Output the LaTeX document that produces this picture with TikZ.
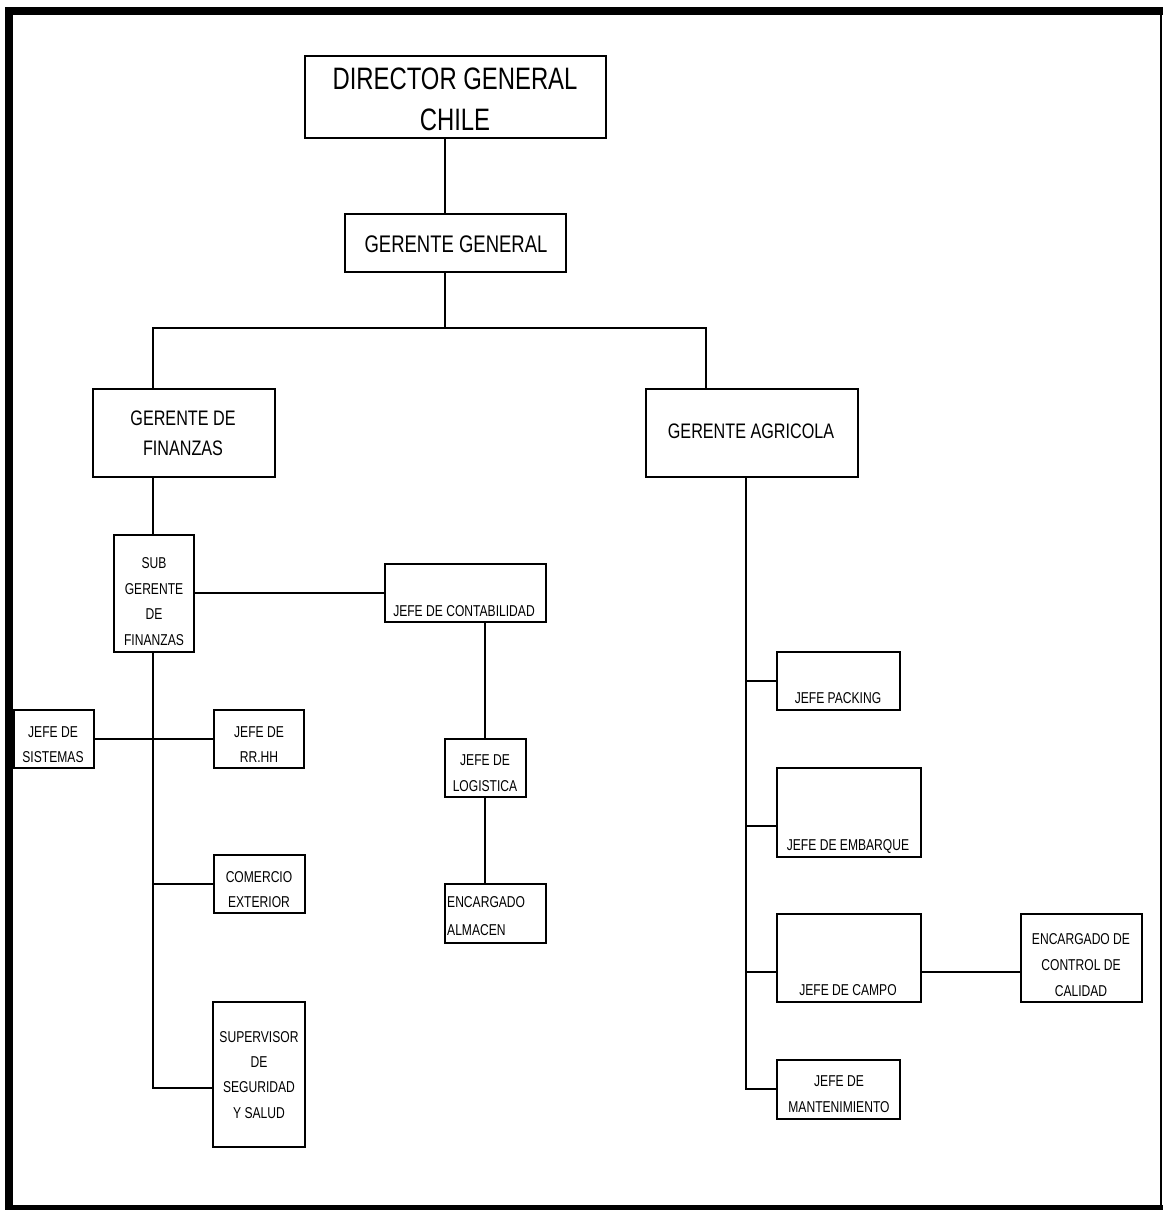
\documentclass[tikz,border=0pt]{standalone}
\usepackage{fontspec}
\setmainfont[FakeStretch=0.77]{Liberation Sans}
\begin{document}
\begin{tikzpicture}[x=1pt,y=-1pt,
  box/.style={draw, line width=1.5pt, rectangle, inner sep=0pt, outer sep=0pt, anchor=north west},
  link/.style={line width=1.5pt},
  big/.style={inner sep=0pt, align=center, font=\fontsize{31}{41}\selectfont},
  mid/.style={inner sep=0pt, align=center, font=\fontsize{21}{30}\selectfont},
  sm/.style={inner sep=0pt, align=center, font=\fontsize{15.7}{25.5}\selectfont}]
\useasboundingbox (0,0) rectangle (1163,1210);

% outer frame
\fill (5,7) rectangle (1163,15);
\fill (5,7) rectangle (13,1210);
\fill (5,1205) rectangle (1163,1210);
\draw[line width=1.5pt] (1161,15) -- (1161,1205);

% boxes
\node[box, minimum width=301pt, minimum height=82pt] (dir) at (305,56) {};
\node[box, minimum width=221pt, minimum height=58pt] (gg) at (345,214) {};
\node[box, minimum width=182pt, minimum height=88pt] (gf) at (93,389) {};
\node[box, minimum width=212pt, minimum height=88pt] (ga) at (646,389) {};
\node[box, minimum width=80pt, minimum height=117pt] (sub) at (114,535) {};
\node[box, minimum width=161pt, minimum height=58pt] (cont) at (385,564) {};
\node[box, minimum width=81pt, minimum height=58pt] (log) at (445,739) {};
\node[box, minimum width=101pt, minimum height=59pt] (alm) at (445,884) {};
\node[box, minimum width=80pt, minimum height=58pt] (sis) at (14,710) {};
\node[box, minimum width=90pt, minimum height=58pt] (rrhh) at (214,710) {};
\node[box, minimum width=91pt, minimum height=58pt] (com) at (214,855) {};
\node[box, minimum width=92pt, minimum height=145pt] (sup) at (213,1002) {};
\node[box, minimum width=123pt, minimum height=58pt] (pack) at (777,652) {};
\node[box, minimum width=144pt, minimum height=89pt] (emb) at (777,768) {};
\node[box, minimum width=144pt, minimum height=88pt] (campo) at (777,914) {};
\node[box, minimum width=121pt, minimum height=88pt] (cal) at (1021,914) {};
\node[box, minimum width=123pt, minimum height=59pt] (mant) at (777,1060) {};

% texts (anchored at the baseline of the last line)
\node[big, anchor=base] (dirT) at (455,130) {DIRECTOR GENERAL\\CHILE};
\node[inner sep=0pt, font=\fontsize{24}{30}\selectfont, anchor=base] (ggT) at (456,252) {GERENTE GENERAL};
\node[mid, anchor=base] (gfT) at (183,455) {GERENTE DE\\FINANZAS};
\node[mid, anchor=base] (gaT) at (751,438) {GERENTE AGRICOLA};
\node[sm, anchor=base] (subT) at (154,645) {SUB\\GERENTE\\DE\\FINANZAS};
\node[sm, anchor=base] (contT) at (464,616) {JEFE DE CONTABILIDAD};
\node[sm, anchor=base] (logT) at (485,791) {JEFE DE\\LOGISTICA};
\node[sm, align=left, anchor=base west, font=\fontsize{15.7}{28}\selectfont] (almT) at (447,935) {ENCARGADO\\ALMACEN};
\node[sm, anchor=base, font=\fontsize{15.7}{25}\selectfont] (sisT) at (53,762) {JEFE DE\\SISTEMAS};
\node[sm, anchor=base, font=\fontsize{15.7}{25}\selectfont] (rrhhT) at (259,762) {JEFE DE\\RR.HH};
\node[sm, anchor=base, font=\fontsize{15.7}{24.5}\selectfont] (comT) at (259,907) {COMERCIO\\EXTERIOR};
\node[sm, anchor=base, font=\fontsize{15.7}{25.3}\selectfont] (supT) at (259,1118) {SUPERVISOR\\DE\\SEGURIDAD\\Y SALUD};
\node[sm, anchor=base] (packT) at (838,703) {JEFE PACKING};
\node[sm, anchor=base] (embT) at (848,850) {JEFE DE EMBARQUE};
\node[sm, anchor=base] (campoT) at (848,995) {JEFE DE CAMPO};
\node[sm, anchor=base, font=\fontsize{15.7}{26}\selectfont] (calT) at (1081,996) {ENCARGADO DE\\CONTROL DE\\CALIDAD};
\node[sm, anchor=base] (mantT) at (839,1112) {JEFE DE\\MANTENIMIENTO};

% junction points of the connectors
\coordinate (trunk) at (445,328);
\coordinate (busL) at (153,328);
\coordinate (busR) at (706,328);
\coordinate (spL) at (153,0);
\coordinate (contx) at (485,0);
\coordinate (agx) at (746,0);
\coordinate (supIn) at (213,1088);
\coordinate (embIn) at (777,826);
\coordinate (campoIn) at (777,972);
\coordinate (mantIn) at (777,1089);

% connectors
\draw[link] (dir.south -| trunk) -- (gg.north -| trunk);
\draw[link] (gg.south -| trunk) -- (trunk);
\draw[link] (gf.north -| busL) -- (busL) -- (busR) -- (ga.north -| busR);
\draw[link] (gf.south -| spL) -- (sub.north -| spL);
\draw[link] (sub.east |- cont.west) -- (cont.west);
\draw[link] (cont.south -| contx) -- (log.north -| contx);
\draw[link] (log.south -| contx) -- (alm.north -| contx);
\draw[link] (sub.south -| spL) |- (supIn);
\draw[link] (sis.east) -- (rrhh.west);
\draw[link] (com.west -| spL) -- (com.west);
\draw[link] (ga.south -| agx) |- (mantIn);
\draw[link] (pack.west -| agx) -- (pack.west);
\draw[link] (embIn -| agx) -- (embIn);
\draw[link] (campoIn -| agx) -- (campoIn);
\draw[link] (campo.east |- campoIn) -- (cal.west |- campoIn);
\end{tikzpicture}
\end{document}
